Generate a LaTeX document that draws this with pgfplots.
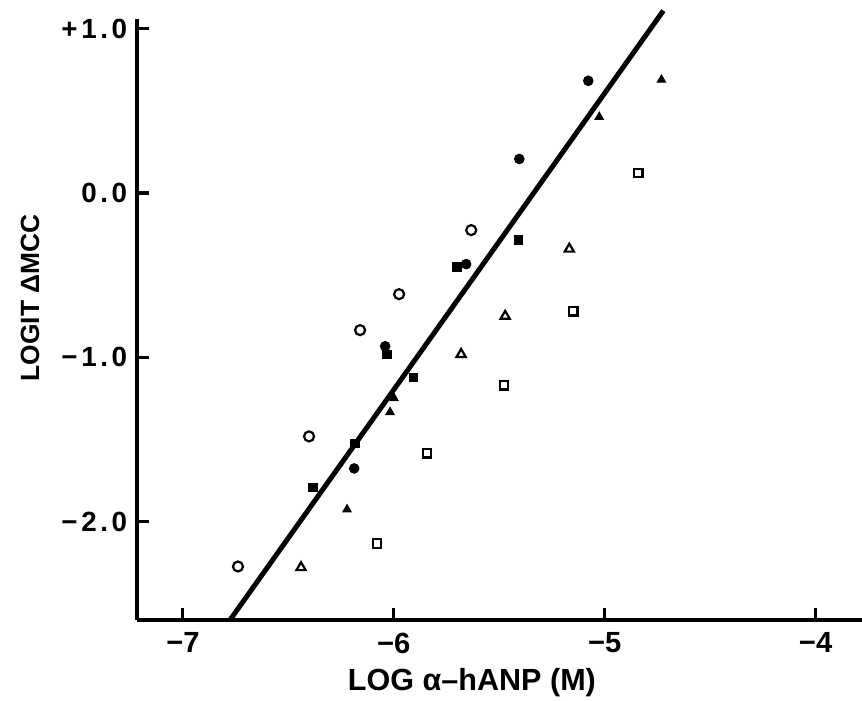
\documentclass[border=0pt]{standalone}
\usepackage{fontspec}
\setmainfont{Liberation Sans}
\newfontfamily\ytickfont[LetterSpace=13]{Liberation Sans}
\usepackage{pgfplots}
\pgfplotsset{compat=1.18}

% open circles
\pgfplotstableread{
x y
-6.739 -2.274
-6.402 -1.482
-6.160 -0.835
-5.975 -0.616
-5.633 -0.226
}\opencirc
% filled circles
\pgfplotstableread{
x y
-6.188 -1.677
-6.041 -0.933
-5.657 -0.433
-5.405 0.207
-5.078 0.683
}\fillcirc
% filled squares
\pgfplotstableread{
x y
-6.383 -1.793
-6.184 -1.524
-6.033 -0.982
-5.908 -1.122
-5.700 -0.451
-5.410 -0.287
}\fillsq
% open triangles
\pgfplotstableread{
x y
-6.440 -2.280
-5.681 -0.982
-5.472 -0.750
-5.168 -0.341
}\opentri
% filled triangles
\pgfplotstableread{
x y
-6.222 -1.927
-6.018 -1.335
-5.999 -1.250
-5.026 0.463
-4.731 0.689
}\filltri
% open squares
\pgfplotstableread{
x y
-6.079 -2.134
-5.842 -1.585
-5.477 -1.171
-5.149 -0.720
-4.841 0.122
}\opensq

\begin{document}
\begin{tikzpicture}
\begin{axis}[
    scale only axis,
    width=261pt, height=216.4pt,
    xmin=-7.218, xmax=-3.78,
    ymin=-2.60, ymax=1.06,
    axis x line=bottom, axis y line=left,
    axis line style={-, line width=1.4pt},
    tick align=inside,
    major tick length=4.3pt,
    tick style={line width=1.1pt, black},
    xtick={-7,-6,-5,-4},
    xticklabels={−7,−6,−5,−4},
    ytick={-2,-1,0,1},
    yticklabels={−2.0,−1.0,0.0,+1.0},
    xticklabel style={font=\fontsize{10.5}{12}\selectfont\bfseries, yshift=-1pt},
    yticklabel style={font=\fontsize{10}{12}\selectfont\ytickfont\bfseries},
    xlabel={LOG α–hANP (M)},
    ylabel={LOGIT ΔMCC},
    xlabel style={at={(axis description cs:0.462,-0.104)}, anchor=center,
        font=\fontsize{11}{13}\selectfont\bfseries},
    ylabel style={at={(axis description cs:-0.1475,0.536)}, anchor=center,
        font=\fontsize{9.5}{12}\selectfont\bfseries},
    clip=false,
]
% regression line
\addplot[black, line width=1.8pt, no marks] coordinates {(-6.777,-2.60) (-4.722,1.11)};

\addplot[only marks, mark=o, mark size=1.8pt, mark options={line width=0.8pt, fill=white}] table {\opencirc};
\addplot[only marks, mark=*, mark size=1.7pt] table {\fillcirc};
\addplot[only marks, mark=square*, mark size=1.5pt] table {\fillsq};
\addplot[only marks, mark=triangle, mark size=1.9pt, mark options={line width=0.8pt, fill=white}] table {\opentri};
\addplot[only marks, mark=triangle*, mark size=1.7pt] table {\filltri};
\addplot[only marks, mark=square, mark size=1.5pt, mark options={line width=0.8pt, fill=white}] table {\opensq};
\end{axis}
\pgfresetboundingbox
\path[use as bounding box] (-49.3pt,-28.8pt) rectangle (261pt,223.2pt);
\end{tikzpicture}
\end{document}
